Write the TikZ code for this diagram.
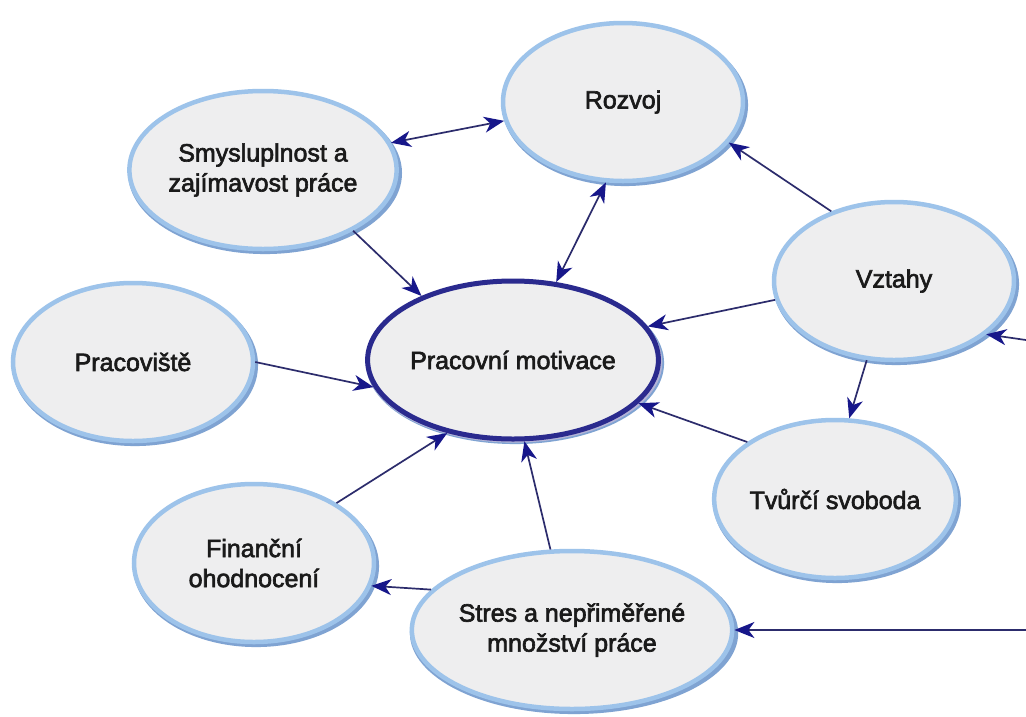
\documentclass[tikz,border=0pt]{standalone}
\usepackage{fontspec}
\setmainfont{Liberation Sans}
\newfontfamily\bubfont{Liberation Sans}[FakeBold=2.5]
\usetikzlibrary{shapes.geometric,arrows.meta,shadows}
\definecolor{bord}{HTML}{9DC3EA}
\definecolor{shad}{HTML}{7FA3D2}
\definecolor{fillg}{HTML}{EEEEEF}
\definecolor{navy}{HTML}{2A2A8E}
\definecolor{linec}{HTML}{2C2C6C}
\definecolor{tipc}{HTML}{17178A}
\definecolor{txt}{HTML}{1A1A1A}
\begin{document}
\begin{tikzpicture}[x=1pt,y=-1pt,
  bubble/.style={ellipse, draw=bord, line width=4.5pt, fill=fillg,
    minimum width=240pt, minimum height=158pt, inner sep=0pt, align=center,
    text=txt, font=\bubfont\fontsize{25}{30}\selectfont,
    general shadow={fill=shad, shadow xshift=2pt, shadow yshift=-3pt, shadow scale=1.025}},
  core/.style={bubble, draw=navy, line width=5pt,
    general shadow={fill=navy!35, shadow xshift=1pt, shadow yshift=-2pt, shadow scale=1.02}},
  conn/.style={draw=linec, line width=1.7pt, -{Stealth[length=20pt,width=16pt,inset=6pt,color=tipc]}},
  conn2/.style={draw=linec, line width=1.7pt, {Stealth[length=20pt,width=16pt,inset=6pt,color=tipc]}-{Stealth[length=20pt,width=16pt,inset=6pt,color=tipc]}}
]
\useasboundingbox[fill=white] (0,0) rectangle (1026,716);

\node[bubble] (roz) at (623,102) {Rozvoj};
\node[bubble] (smy) at (263,170) {Smysluplnost a\\zajímavost práce};
\node[bubble] (prac) at (133,362) {Pracoviště};
\node[core]   (mot) at (513,360) {Pracovní motivace};
\node[bubble] (vzt) at (894,281) {Vztahy};
\node[bubble] (tvu) at (835,499) {Tvůrčí svoboda};
\node[bubble] (fin) at (254,563) {Finanční\\ohodnocení};
\node[bubble] (str) at (572,630) {Stres a nepřiměřené\\množství práce};

\coordinate (inV) at (1026,340);
\coordinate (inS) at (1026,630);

\draw[conn2] (smy.12) -- (roz.189);
\draw[conn]  (smy.-34) -- (mot.145);
\draw[conn2] (roz.258) -- (mot.61);
\draw[conn]  (vzt.132) -- (roz.-21);
\draw[conn]  (vzt.189) -- (mot.14);
\draw[conn]  (vzt.251) -- (tvu.80);
\draw[conn]  (tvu.147) -- (mot.-19);
\draw[conn]  (prac.0) -- (mot.191);
\draw[conn]  (fin.36) -- (mot.228);
\draw[conn]  (str.105) -- (mot.-82);
\draw[conn]  (str.164) -- (fin.-11);
\draw[conn]  (inS) -- (str.0);
\draw[conn]  (inV) -- (vzt.-30);
\end{tikzpicture}
\end{document}
